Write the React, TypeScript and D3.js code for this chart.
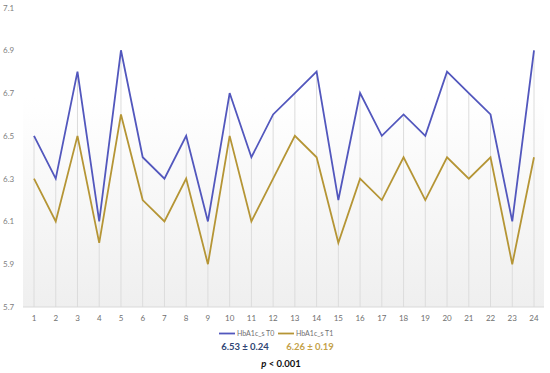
import React, { useRef, useEffect } from 'react';
import * as d3 from 'd3';

const categories = d3.range(1, 25).map(String);
const t0Values = [6.5, 6.3, 6.8, 6.1, 6.9, 6.4, 6.3, 6.5, 6.1, 6.7, 6.4, 6.6, 6.7, 6.8, 6.2, 6.7, 6.5, 6.6, 6.5, 6.8, 6.7, 6.6, 6.1, 6.9];
const t1Values = [6.3, 6.1, 6.5, 6.0, 6.6, 6.2, 6.1, 6.3, 5.9, 6.5, 6.1, 6.3, 6.5, 6.4, 6.0, 6.3, 6.2, 6.4, 6.2, 6.4, 6.3, 6.4, 5.9, 6.4];
const yTicks = [5.7, 5.9, 6.1, 6.3, 6.5, 6.7, 6.9, 7.1];
const seriesNames = ['HbA1c_s T0', 'HbA1c_s T1'];
const colors = ['#5257bd', '#b59535'];

export default function App() {
  const svgRef = useRef<SVGSVGElement>(null);

  useEffect(() => {
    const W = 550, H = 373;
    const svg = d3.select(svgRef.current).attr('width', W).attr('height', H);
    svg.selectAll('*').remove();
    const font = 'Lato, "Open Sans", sans-serif';

    const left = 23, right = 544, top = 7.5, bottom = 307;

    const x = d3.scalePoint<string>().domain(categories).range([34, 534]);
    const y = d3.scaleLinear().domain([5.7, 7.1]).range([bottom, top]);

    // фон: мягкий градиент
    const defs = svg.append('defs');
    const grad = defs.append('linearGradient').attr('id', 'bg').attr('x1', 0).attr('y1', 0).attr('x2', 0).attr('y2', 1);
    grad.append('stop').attr('offset', '0%').attr('stop-color', '#ffffff');
    grad.append('stop').attr('offset', '30%').attr('stop-color', '#ffffff');
    grad.append('stop').attr('offset', '100%').attr('stop-color', '#efefef');
    svg.append('rect')
      .attr('x', left).attr('y', top).attr('width', right - left).attr('height', bottom - top)
      .attr('fill', 'url(#bg)');

    // линии-опуски от верхней серии до оси
    svg.append('g')
      .selectAll('line')
      .data(categories)
      .join('line')
        .attr('x1', d => x(d)!).attr('x2', d => x(d)!)
        .attr('y1', (_, i) => y(Math.max(t0Values[i], t1Values[i])))
        .attr('y2', bottom)
        .attr('stroke', '#dcdcdc').attr('stroke-width', 1);

    svg.append('line')
      .attr('x1', left).attr('x2', right).attr('y1', bottom).attr('y2', bottom)
      .attr('stroke', '#d9d9d9');

    // ось Y
    svg.append('g')
      .selectAll('text')
      .data(yTicks)
      .join('text')
        .attr('x', 3).attr('y', d => y(d) + 3)
        .attr('font-family', font).attr('font-size', 8).attr('fill', '#808080')
        .text(d => d.toFixed(1));

    // ось X
    svg.append('g')
      .selectAll('text')
      .data(categories)
      .join('text')
        .attr('x', d => x(d)!).attr('y', 321)
        .attr('text-anchor', 'middle')
        .attr('font-family', font).attr('font-size', 8).attr('fill', '#707070')
        .text(d => d);

    // линии
    const line = d3.line<number>()
      .x((_, i) => x(categories[i])!)
      .y(d => y(d));
    [t0Values, t1Values].forEach((vals, k) => {
      svg.append('path')
        .datum(vals)
        .attr('d', line)
        .attr('fill', 'none')
        .attr('stroke', colors[k])
        .attr('stroke-width', 1.8)
        .attr('stroke-linejoin', 'miter');
    });

    // легенда
    const legX = [219, 278];
    seriesNames.forEach((name, k) => {
      svg.append('line')
        .attr('x1', legX[k]).attr('x2', legX[k] + 16)
        .attr('y1', 333.5).attr('y2', 333.5)
        .attr('stroke', colors[k]).attr('stroke-width', 1.8);
      svg.append('text')
        .attr('x', legX[k] + 18).attr('y', 336)
        .attr('font-family', font).attr('font-size', 7).attr('fill', '#707070')
        .text(name);
    });

    svg.append('text')
      .attr('x', 245).attr('y', 350)
      .attr('text-anchor', 'middle')
      .attr('font-family', font).attr('font-size', 9.5).attr('font-weight', 'bold').attr('fill', '#2f4674')
      .text('6.53 ± 0.24');
    svg.append('text')
      .attr('x', 310).attr('y', 350)
      .attr('text-anchor', 'middle')
      .attr('font-family', font).attr('font-size', 9.5).attr('font-weight', 'bold').attr('fill', '#c4a24a')
      .text('6.26 ± 0.19');

    const p = svg.append('text')
      .attr('x', 281).attr('y', 367)
      .attr('text-anchor', 'middle')
      .attr('font-family', font).attr('font-size', 9.5).attr('font-weight', 'bold').attr('fill', '#111');
    p.append('tspan').attr('font-style', 'italic').text('p');
    p.append('tspan').text(' < 0.001');
  }, []);

  return (
    <div style={{ position: 'fixed', left: 0, top: 0, width: 550, height: 373, background: '#fff' }}>
      <svg ref={svgRef} style={{ display: 'block' }} />
    </div>
  );
}
